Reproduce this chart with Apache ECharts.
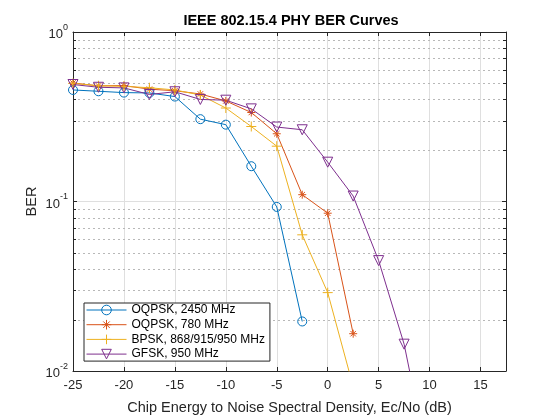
<!DOCTYPE html>
<html><head><meta charset="utf-8">
<script src="https://cdn.jsdelivr.net/npm/echarts@6/dist/echarts.min.js"></script>
<style>html,body{margin:0;padding:0;background:#fff}#c{width:560px;height:420px}</style>
</head><body><div id="c"></div>
<script>
const xOQPSK2450 = [-25,-22.5,-20,-17.5,-15,-12.5,-10,-7.5,-5,-2.5];
const berOQPSK2450 = [0.455,0.447,0.439,0.437,0.416,0.306,0.284,0.1615,0.0929,0.0196];
const xOQPSK780 = [-25,-22.5,-20,-17.5,-15,-12.5,-10,-7.5,-5,-2.5,0,2.5];
const berOQPSK780 = [0.5,0.481,0.483,0.46,0.45,0.431,0.392,0.335,0.251,0.1097,0.0853,0.0166];
const xBPSK = [-25,-22.5,-20,-17.5,-15,-12.5,-10,-7.5,-5,-2.5,0,2.5];
const berBPSK = [0.498,0.482,0.478,0.469,0.455,0.425,0.356,0.277,0.212,0.0636,0.029,0.0081];
const xGFSK = [-25,-22.5,-20,-17.5,-15,-12.5,-10,-7.5,-5,-2.5,0,2.5,5,7.5,10];
const berGFSK = [0.49,0.472,0.468,0.428,0.444,0.4,0.396,0.352,0.275,0.265,0.1706,0.1077,0.0448,0.0144,0.00265];
const seriesNames = ['OQPSK, 2450 MHz','OQPSK, 780 MHz','BPSK, 868/915/950 MHz','GFSK, 950 MHz'];
const minorTickValues = [0.02,0.03,0.04,0.05,0.06,0.07,0.08,0.09,0.2,0.3,0.4,0.5,0.6,0.7,0.8,0.9];
const xTitle = 'Chip Energy to Noise Spectral Density, Ec/No (dB)';
const yTitle = 'BER';
const chartTitle = 'IEEE 802.15.4 PHY BER Curves';

const FONT = "'Liberation Sans', Arial, Helvetica, sans-serif";
const AX = '#262626';
const colors = ['#0072BD','#D95319','#EDB120','#7E2F8E'];
const symbols = [
  'circle',
  'path://M5,0L5,10M0,5L10,5M1.6,1.6L8.4,8.4M1.6,8.4L8.4,1.6',
  'path://M5,0L5,10M0,5L10,5',
  'path://M0,0L10,0L5,8.66Z'
];
const sizes = [9, 8, 10, 10];
const xs = [xOQPSK2450, xOQPSK780, xBPSK, xGFSK];
const ys = [berOQPSK2450, berOQPSK780, berBPSK, berGFSK];

const zip = (a, b) => a.map((v, i) => [v, b[i]]);

const lineSeries = seriesNames.map((name, i) => ({
  name, type: 'line', data: zip(xs[i], ys[i]),
  symbol: symbols[i], symbolSize: sizes[i], showAllSymbol: true,
  color: colors[i],
  lineStyle: { color: colors[i], width: 1 },
  itemStyle: { color: 'rgba(255,255,255,0)', borderColor: colors[i], borderWidth: 1 },
  emphasis: { disabled: true }, z: 5, clip: true, animation: false
}));

const minorSeries = {
  type: 'custom', silent: true, z: 1, animation: false,
  data: minorTickValues.map(v => [-25, v]),
  encode: { x: 0, y: 1 },
  renderItem: (params, api) => {
    const cs = params.coordSys;
    const y = Math.round(api.coord([api.value(0), api.value(1)])[1]) + 0.5;
    return { type: 'group', children: [
      { type: 'line', shape: { x1: cs.x, y1: y, x2: cs.x + cs.width, y2: y },
        style: { stroke: '#b8b8b8', lineWidth: 1, lineDash: [2, 3] } },
      { type: 'line', shape: { x1: cs.x, y1: y, x2: cs.x + 3, y2: y },
        style: { stroke: AX, lineWidth: 1 } },
      { type: 'line', shape: { x1: cs.x + cs.width - 3, y1: y, x2: cs.x + cs.width, y2: y },
        style: { stroke: AX, lineWidth: 1 } }
    ]};
  }
};

const chart = echarts.init(document.getElementById('c'), null, { renderer: 'canvas' });
const xCommon = { type: 'value', min: -25, max: 17.5, interval: 5 };
const yCommon = { type: 'log', logBase: 10, min: 0.01, max: 1 };
chart.setOption({
  animation: false,
  backgroundColor: '#fff',
  title: { text: chartTitle, left: 286, top: 8, textAlign: 'center',
    textStyle: { fontFamily: FONT, fontSize: 14.5, fontWeight: 'bold', color: '#000' } },
  grid: { left: 73, top: 32, right: 54, bottom: 47, containLabel: false },
  legend: {
    data: seriesNames, orient: 'vertical', left: 84, top: 303,
    itemWidth: 40, itemHeight: 12, itemGap: 2.7,
    padding: [1, 5, 1, 2], backgroundColor: '#fff', borderColor: AX, borderWidth: 1, borderRadius: 0,
    textStyle: { fontFamily: FONT, fontSize: 12, color: '#000' },
    itemStyle: { borderWidth: 1 },
    lineStyle: { width: 1 },
    selectedMode: false
  },
  xAxis: [
    Object.assign({}, xCommon, {
      position: 'bottom', name: xTitle, nameLocation: 'middle', nameGap: 29,
      nameTextStyle: { fontFamily: FONT, fontSize: 14.5, color: AX },
      axisLine: { show: true, onZero: false, lineStyle: { color: AX, width: 1 } },
      axisTick: { show: true, inside: true, length: 4, lineStyle: { color: AX } },
      axisLabel: { fontFamily: FONT, fontSize: 13, color: AX, margin: 8, showMaxLabel: false },
      splitLine: { show: true, lineStyle: { color: '#dfdfdf', width: 1 } }
    }),
    Object.assign({}, xCommon, {
      position: 'top',
      axisLine: { show: true, onZero: false, lineStyle: { color: AX, width: 1 } },
      axisTick: { show: true, inside: true, length: 4, lineStyle: { color: AX } },
      axisLabel: { show: false }, splitLine: { show: false }
    })
  ],
  yAxis: [
    Object.assign({}, yCommon, {
      position: 'left', name: yTitle, nameLocation: 'middle', nameGap: 34, nameRotate: 90,
      nameMoveOverlap: false,
      nameTextStyle: { fontFamily: FONT, fontSize: 14.5, color: AX },
      axisLine: { show: true, onZero: false, lineStyle: { color: AX, width: 1 } },
      axisTick: { show: true, inside: true, length: 4, lineStyle: { color: AX } },
      axisLabel: { margin: 5, color: AX,
        formatter: v => '{b|10}{s|' + Math.round(Math.log10(v)) + '}',
        rich: { b: { fontFamily: FONT, fontSize: 13, color: AX, lineHeight: 18, verticalAlign: 'bottom' },
                s: { fontFamily: FONT, fontSize: 9, color: AX, lineHeight: 10, verticalAlign: 'top' } } },
      splitLine: { show: true, lineStyle: { color: '#dfdfdf', width: 1 } },
      minorTick: { show: false }
    }),
    Object.assign({}, yCommon, {
      position: 'right',
      axisLine: { show: true, onZero: false, lineStyle: { color: AX, width: 1 } },
      axisTick: { show: true, inside: true, length: 4, lineStyle: { color: AX } },
      axisLabel: { show: false }, splitLine: { show: false }
    })
  ],
  series: [minorSeries].concat(lineSeries)
});
</script></body></html>
